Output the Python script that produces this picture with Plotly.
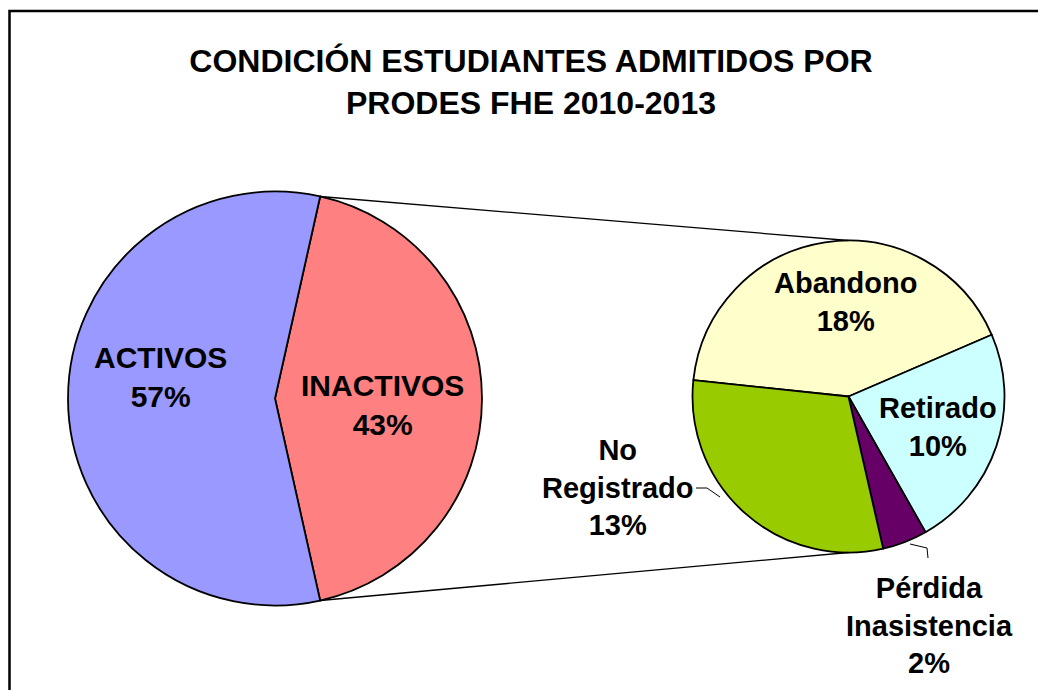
import math
import plotly.graph_objects as go

W, H = 1038, 690

# datos
main_labels = ["INACTIVOS", "ACTIVOS"]
main_values = [43, 57]
main_colors = ["#FF8080", "#9999FF"]
main_text = ["INACTIVOS<br>43%", "ACTIVOS<br>57%"]

sub_labels = ["Abandono", "Retirado", "Pérdida Inasistencia", "No Registrado"]
sub_values = [18, 10, 2, 13]
sub_colors = ["#FFFFCC", "#CCFFFF", "#660066", "#99CC00"]
sub_text = ["Abandono<br>18%", "Retirado<br>10%", "Pérdida<br>Inasistencia<br>2%", "No<br>Registrado<br>13%"]

# geometria (pixeles)
MC = (275, 398.5); MR = 207      # pastel principal
SC = (848.5, 396.5); SR = 156    # pastel secundario
main_rot = 90 - 360 * main_values[0] / sum(main_values) / 2
sub_rot = 276

def px(x, y):
    return x / W, 1 - y / H

def dom(c, r):
    return dict(x=[(c[0] - r) / W, (c[0] + r) / W],
                y=[1 - (c[1] + r) / H, 1 - (c[1] - r) / H])

fig = go.Figure()
fig.add_trace(go.Pie(
    labels=main_labels, values=main_values, sort=False, direction='clockwise',
    rotation=main_rot, domain=dom(MC, MR), textinfo='none',
    marker=dict(colors=main_colors, line=dict(color='black', width=1.8)),
    showlegend=False,
))
fig.add_trace(go.Pie(
    labels=sub_labels, values=sub_values, sort=False, direction='clockwise',
    rotation=sub_rot, domain=dom(SC, SR), textinfo='none',
    marker=dict(colors=sub_colors, line=dict(color='black', width=1.8)),
    showlegend=False,
))

# lineas de union
def edge(c, r, ang):
    a = math.radians(ang)
    return c[0] + r * math.sin(a), c[1] - r * math.cos(a)

a_top = main_rot
a_bot = main_rot + 360 * main_values[0] / sum(main_values)
p1 = edge(MC, MR, a_top); p2 = (SC[0], SC[1] - SR)
p3 = edge(MC, MR, a_bot); p4 = (SC[0], SC[1] + SR)

shapes = []
for a, b in [(p1, p2), (p3, p4)]:
    x0, y0 = px(*a); x1, y1 = px(*b)
    shapes.append(dict(type='line', xref='paper', yref='paper', x0=x0, y0=y0, x1=x1, y1=y1,
                       line=dict(color='black', width=1.3)))

# lineas guia de etiquetas externas
for pts in [[(696, 488), (707, 488), (720, 497)], [(910, 544), (927, 548), (928, 558)]]:
    pp = [px(*p) for p in pts]
    path = "M " + " L ".join(f"{x},{y}" for x, y in pp)
    shapes.append(dict(type='path', xref='paper', yref='paper', path=path,
                       line=dict(color='black', width=1)))

# marco
fx0, fy1 = px(9.5, 11)
shapes.append(dict(type='rect', xref='paper', yref='paper', x0=fx0, y0=-0.05, x1=1.05, y1=fy1,
                   line=dict(color='black', width=2.5)))

# etiquetas
lab_pos = [(382, 405), (160, 377), (845, 302), (938, 427), (929, 625), (617, 487)]
lab_size = [30, 30, 29, 29, 29, 29]
annotations = []
for t, (x, y), s in zip(main_text + sub_text, lab_pos, lab_size):
    ax, ay = px(x, y)
    annotations.append(dict(text="<b>" + t + "</b>", x=ax, y=ay, xref='paper', yref='paper',
                            showarrow=False, xanchor='center', yanchor='middle',
                            font=dict(family='Liberation Sans, Arial', size=s, color='black')))

fig.update_layout(
    width=W, height=H,
    margin=dict(l=0, r=0, t=0, b=0),
    paper_bgcolor='white', plot_bgcolor='white',
    title=dict(text="<b>CONDICIÓN ESTUDIANTES ADMITIDOS POR<br>PRODES FHE 2010-2013</b>",
               x=531 / W, xanchor='center', y=1 - 72 / H, yanchor='middle', yref='container',
               font=dict(family='Liberation Sans, Arial', size=32, color='black')),
    shapes=shapes,
    annotations=annotations,
)

fig.write_html("out.html", config={'displayModeBar': False},
               post_script="document.body.style.margin='0';document.body.style.overflow='hidden';")
